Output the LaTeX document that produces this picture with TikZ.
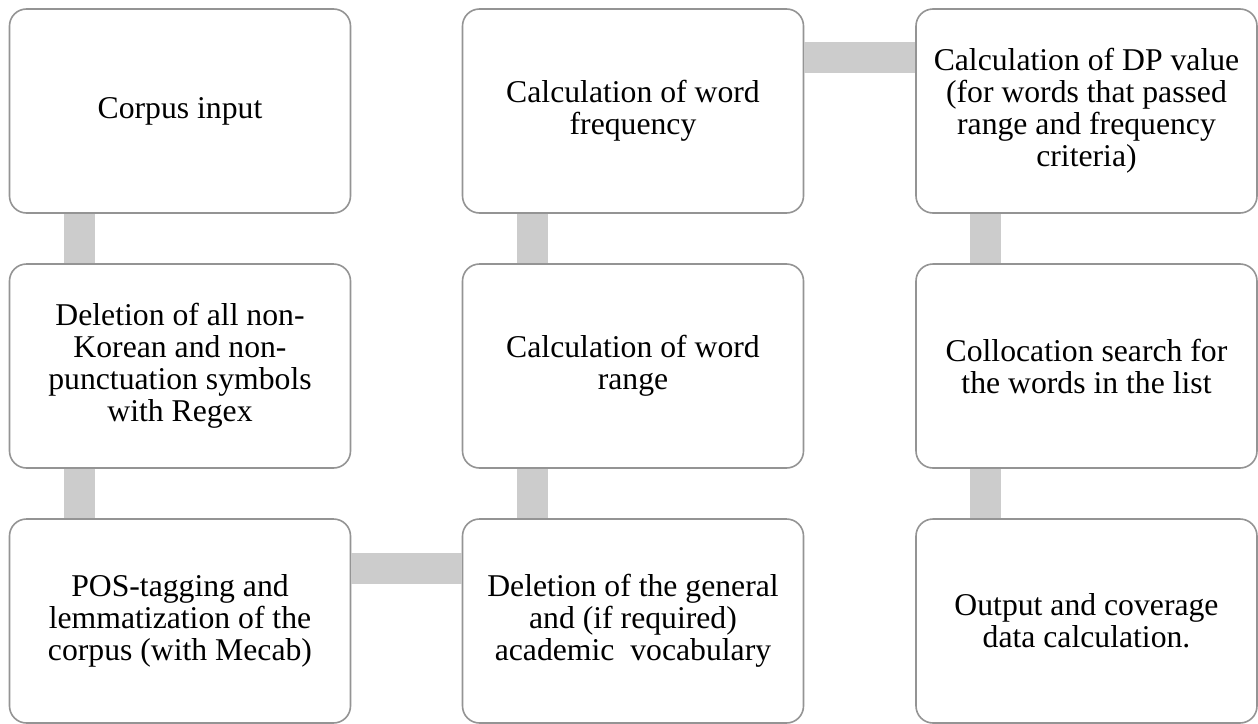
\documentclass[tikz,border=0pt]{standalone}
\usepackage{fontspec}
\setmainfont{Liberation Serif}
\begin{document}
\begin{tikzpicture}[x=1pt,y=1pt,
  stepbox/.style={draw=black!42, line width=1.6pt, fill=white, rounded corners=17pt,
    minimum width=341pt, minimum height=204pt, inner sep=0pt, align=center,
    font=\fontsize{31.7}{32}\selectfont},
  conn/.style={draw=black!20, line width=31pt}]
\useasboundingbox (0,0) rectangle (1258,-723);
% boxes
\node[stepbox] (a1) at (180,-111) {Corpus input};
\node[stepbox] (a2) at (180,-366) {Deletion of all non-\\Korean and non-\\punctuation symbols\\with Regex};
\node[stepbox] (a3) at (180,-621) {POS-tagging and\\lemmatization of the\\corpus (with Mecab)};
\node[stepbox] (b3) at (633,-621) {Deletion of the general\\and (if required)\\academic\ \ vocabulary};
\node[stepbox] (b2) at (633,-366) {Calculation of word\\range};
\node[stepbox] (b1) at (633,-111) {Calculation of word\\frequency};
\node[stepbox] (c1) at (1086.5,-111) {Calculation of DP value\\(for words that passed\\range and frequency\\criteria)};
\node[stepbox] (c2) at (1086.5,-366) {Collocation search for\\the words in the list};
\node[stepbox] (c3) at (1086.5,-621) {Output and coverage\\data calculation.};
% connectors
\begin{scope}[on background layer/.style={}]
\end{scope}
\draw[conn] ([xshift=70.5pt]a1.south west) -- ([xshift=70.5pt]a2.north west);
\draw[conn] ([xshift=70.5pt]a2.south west) -- ([xshift=70.5pt]a3.north west);
\draw[conn] ([yshift=-50pt]a3.north east) -- ([yshift=-50pt]b3.north west);
\draw[conn] ([xshift=70.5pt]b3.north west) -- ([xshift=70.5pt]b2.south west);
\draw[conn] ([xshift=70.5pt]b2.north west) -- ([xshift=70.5pt]b1.south west);
\draw[conn] ([yshift=-49.5pt]b1.north east) -- ([yshift=-49.5pt]c1.north west);
\draw[conn] ([xshift=70.5pt]c1.south west) -- ([xshift=70.5pt]c2.north west);
\draw[conn] ([xshift=70.5pt]c2.south west) -- ([xshift=70.5pt]c3.north west);
\end{tikzpicture}
\end{document}
